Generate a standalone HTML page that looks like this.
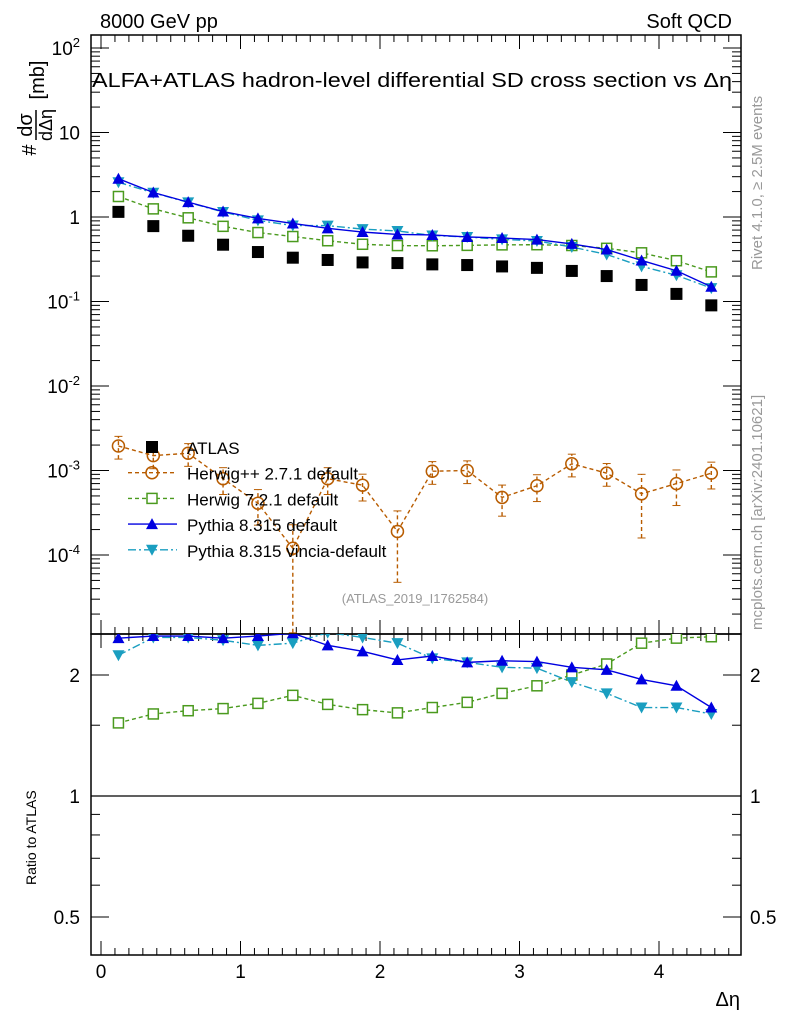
<!DOCTYPE html>
<html><head><meta charset="utf-8">
<style>
html,body{margin:0;padding:0;background:#fff;}
svg{display:block;font-family:"Liberation Sans",sans-serif;}
</style></head>
<body>
<svg id="chart" width="786" height="1024" viewBox="0 0 786 1024">
<text x="100" y="28" font-size="20">8000 GeV pp</text>
<text x="732" y="28" font-size="20" text-anchor="end">Soft QCD</text>
<text x="92" y="87" font-size="20" textLength="640" lengthAdjust="spacingAndGlyphs">ALFA+ATLAS hadron-level differential SD cross section vs Δη</text>
<text transform="translate(762,270) rotate(-90)" font-size="15" fill="#999">Rivet 4.1.0, ≥ 2.5M events</text>
<text transform="translate(762,630) rotate(-90)" font-size="15" fill="#999">mcplots.cern.ch [arXiv:2401.10621]</text>
<text x="415" y="603" font-size="13" fill="#999" text-anchor="middle">(ATLAS_2019_I1762584)</text>
<g transform="translate(36,105) rotate(-90)">
<text x="-45" y="0" font-size="20" text-anchor="middle">#</text>
<text x="-20" y="-4" font-size="20" text-anchor="middle">dσ</text>
<line x1="-35" y1="0" x2="-5" y2="0" stroke="#000" stroke-width="1.5"/>
<text x="-20" y="16" font-size="18" text-anchor="middle">dΔη</text>
<text x="25" y="8" font-size="20" text-anchor="middle">[mb]</text>
</g>
<text transform="translate(36,885) rotate(-90)" font-size="14">Ratio to ATLAS</text>
<text x="740" y="1006" font-size="20" text-anchor="end">Δη</text>
<g id="main"></g>
<g id="ratio"></g>
<g id="legend"></g>
</svg>
<script>
const xBins=[0.125,0.375,0.625,0.875,1.125,1.375,1.625,1.875,2.125,2.375,2.625,2.875,3.125,3.375,3.625,3.875,4.125,4.375];
const atlas=[1.15,0.78,0.60,0.47,0.385,0.33,0.31,0.29,0.285,0.275,0.27,0.26,0.25,0.23,0.20,0.157,0.123,0.09];
const herwigpp=[1.95e-3,1.5e-3,1.6e-3,8e-4,4.1e-4,1.2e-4,8e-4,6.7e-4,1.9e-4,9.8e-4,1.0e-3,4.8e-4,6.6e-4,1.2e-3,9.3e-4,5.3e-4,7e-4,9.3e-4];
const herwigppErr=[0.3,0.3,0.3,0.35,0.45,0.9,0.35,0.35,0.75,0.3,0.3,0.4,0.35,0.3,0.3,0.7,0.45,0.35];
const ratioH7=[1.52,1.60,1.63,1.65,1.70,1.78,1.69,1.64,1.61,1.66,1.71,1.80,1.88,2.0,2.13,2.40,2.47,2.49];
const ratioPy=[2.47,2.50,2.50,2.47,2.50,2.54,2.37,2.29,2.18,2.23,2.15,2.17,2.16,2.09,2.06,1.95,1.88,1.66];
const ratioVin=[2.24,2.48,2.48,2.44,2.37,2.40,2.55,2.48,2.40,2.20,2.15,2.09,2.08,1.92,1.80,1.66,1.66,1.60];
const xTicks=[0,1,2,3,4];
const yDecades=[-4,-3,-2,-1,0,1,2];
const ratioTicks=[0.5,1,2];

const NS="http://www.w3.org/2000/svg";
const L=91,R=741,T=35,B=634,RB=955;
const X=v=>101+v*139.5;
const Y=v=>217-Math.log10(v)*84.5;
const RY=v=>796-Math.log2(v)*121;
function mk(p,tag,at){const e=document.createElementNS(NS,tag);for(const k in at)e.setAttribute(k,at[k]);p.appendChild(e);return e;}
const main=document.getElementById('main'),ratio=document.getElementById('ratio'),leg=document.getElementById('legend');

let f=mk(main,'rect',{x:L,y:T,width:R-L,height:B-T,fill:'none',stroke:'#000','stroke-width':1.5});


f=mk(ratio,'rect',{x:L,y:B,width:R-L,height:RB-B,fill:'none',stroke:'#000','stroke-width':1.5});



for(let v=0;v<=4.55;v+=0.1){const x=X(v);const maj=Math.abs(v-Math.round(v))<1e-6;const len=maj?14:7;
 mk(main,'line',{x1:x,y1:B,x2:x,y2:B-len,stroke:'#000'});mk(main,'line',{x1:x,y1:T,x2:x,y2:T+len,stroke:'#000'});
 mk(ratio,'line',{x1:x,y1:RB,x2:x,y2:RB-len,stroke:'#000'});mk(ratio,'line',{x1:x,y1:B,x2:x,y2:B+len,stroke:'#000'});}
xTicks.forEach(v=>{const t=mk(ratio,'text',{x:X(v),y:978,'font-size':19,'text-anchor':'middle'});t.textContent=v;
 
 });

yDecades.forEach(d=>{for(let m=1;m<10;m++){const v=m*Math.pow(10,d);const y=Y(v);if(y<T||y>B)continue;const len=m==1?18:9;
 mk(main,'line',{x1:L,y1:y,x2:L+len,y2:y,stroke:'#000'});mk(main,'line',{x1:R,y1:y,x2:R-len,y2:y,stroke:'#000'});}
 const y=Y(Math.pow(10,d));const g=mk(main,'text',{x:80,y:y+7,'font-size':19,'text-anchor':'end'});
 
 
 if(d==0)g.textContent='1';else if(d==1)g.textContent='10';else{g.textContent='10';const s=mk(g,'tspan',{dy:-8,'font-size':13});s.textContent=d;}});
for(let m=2;m<10;m++){const y=Y(m*1e-5);if(y>B)continue;mk(main,'line',{x1:L,y1:y,x2:L+9,y2:y,stroke:'#000'});mk(main,'line',{x1:R,y1:y,x2:R-9,y2:y,stroke:'#000'});}

[0.5,0.6,0.7,0.8,0.9,1,1.5,2].forEach(v=>{const y=RY(v);const maj=ratioTicks.includes(v);const len=maj?18:9;
 mk(ratio,'line',{x1:L,y1:y,x2:L+len,y2:y,stroke:'#000'});mk(ratio,'line',{x1:R,y1:y,x2:R-len,y2:y,stroke:'#000'});});
ratioTicks.forEach(v=>{const y=RY(v);
 let t=mk(ratio,'text',{x:80,y:y+7,'font-size':19,'text-anchor':'end'});t.textContent=v;
 
 
 t=mk(ratio,'text',{x:750,y:y+7,'font-size':19});t.textContent=v;
 
 });
let ref=mk(ratio,'line',{x1:L,y1:RY(1),x2:R,y2:RY(1),stroke:'#000','stroke-width':1.2});



const defs=mk(document.getElementById('chart'),'defs',{});
const c1=mk(defs,'clipPath',{id:'cm'});mk(c1,'rect',{x:L,y:T,width:R-L,height:B-T});
const c2=mk(defs,'clipPath',{id:'cr'});mk(c2,'rect',{x:L,y:B,width:R-L,height:RB-B});
const gm=mk(main,'g',{'clip-path':'url(#cm)'});const gr=mk(ratio,'g',{'clip-path':'url(#cr)'});

function marker(p,type,x,y,col){
 let e;
 if(type=='sq')e=mk(p,'rect',{x:x-6,y:y-6,width:12,height:12,fill:'#000'});
 else if(type=='osq')e=mk(p,'rect',{x:x-5,y:y-5,width:10,height:10,fill:'#fff',stroke:col,'stroke-width':1.5});
 else if(type=='oc')e=mk(p,'circle',{cx:x,cy:y,r:6,fill:'none',stroke:col,'stroke-width':1.5});
 else if(type=='up')e=mk(p,'polygon',{points:`${x},${y-6} ${x-6},${y+5} ${x+6},${y+5}`,fill:col});
 else e=mk(p,'polygon',{points:`${x},${y+6} ${x-6},${y-5} ${x+6},${y-5}`,fill:col});
 return e;}
function series(p,vals,yf,col,dash,type,name){
 const pts=xBins.map((x,i)=>X(x)+','+yf(vals[i])).join(' ');
 const pl=mk(p,'polyline',{points:pts,fill:'none',stroke:col,'stroke-width':1.4,'stroke-dasharray':dash});
 
 
 xBins.forEach((x,i)=>{const m=marker(p,type,X(x),yf(vals[i]),col);
  
  });}

const h7=atlas.map((a,i)=>a*ratioH7[i]), py=atlas.map((a,i)=>a*ratioPy[i]), vin=atlas.map((a,i)=>a*ratioVin[i]);
xBins.forEach((x,i)=>{const lo=herwigpp[i]*(1-herwigppErr[i]),hi=herwigpp[i]*(1+herwigppErr[i]);
 const e=mk(gm,'line',{x1:X(x),y1:Y(Math.max(lo,1e-6)),x2:X(x),y2:Y(hi),stroke:'#b85c00','stroke-dasharray':'4,3','stroke-width':1.4});
 
 
 mk(gm,'line',{x1:X(x)-4,y1:Y(hi),x2:X(x)+4,y2:Y(hi),stroke:'#b85c00'});
 if(lo>1e-5)mk(gm,'line',{x1:X(x)-4,y1:Y(lo),x2:X(x)+4,y2:Y(lo),stroke:'#b85c00'});});
series(gm,herwigpp,Y,'#b85c00','4,3','oc','herwigpp');
series(gm,h7,Y,'#4a9a1e','4,3','osq','herwig7');
series(gm,vin,Y,'#1a9ec0','8,3,2,3','dn','pythia-vincia');
series(gm,py,Y,'#0000e0','none','up','pythia-default');
xBins.forEach((x,i)=>{const m=marker(gm,'sq',X(x),Y(atlas[i]),'#000');
 
 });

series(gr,ratioH7,RY,'#4a9a1e','4,3','osq','ratio-herwig7');
series(gr,ratioVin,RY,'#1a9ec0','8,3,2,3','dn','ratio-pythia-vincia');
series(gr,ratioPy,RY,'#0000e0','none','up','ratio-pythia-default');

const entries=[['ATLAS','sq','#000',null],['Herwig++ 2.7.1 default','oc','#b85c00','4,3'],['Herwig 7.2.1 default','osq','#4a9a1e','4,3'],['Pythia 8.315 default','up','#0000e0','none'],['Pythia 8.315 vincia-default','dn','#1a9ec0','8,3,2,3']];
entries.forEach((e,i)=>{const y=447+i*25.7;const g=mk(leg,'g',{});
 
 
 if(e[3])mk(g,'line',{x1:128,y1:y,x2:177,y2:y,stroke:e[2],'stroke-width':1.4,'stroke-dasharray':e[3]});
 marker(g,e[1],152,y,e[2]);
 const t=mk(g,'text',{x:187,y:y+7,'font-size':17});t.textContent=e[0];});
</script>
</body></html>
